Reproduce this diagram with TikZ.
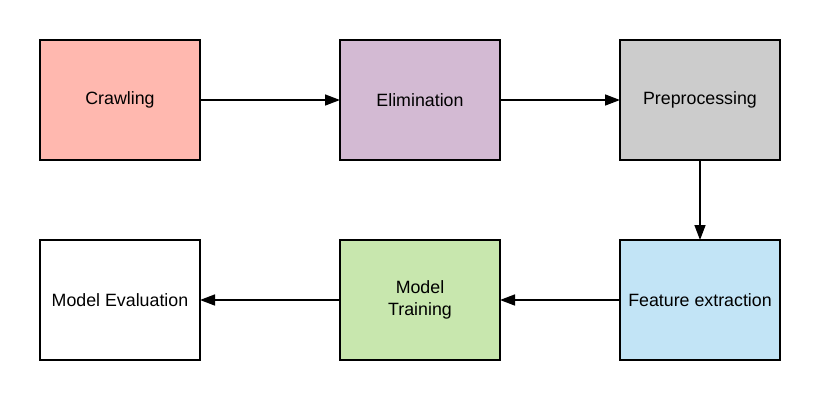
\documentclass[tikz,border=0pt]{standalone}
\usepackage{fontspec}
\setmainfont{Liberation Sans}
\usetikzlibrary{positioning,arrows.meta}

\definecolor{crawlfill}{HTML}{FFB8AF}
\definecolor{elimfill}{HTML}{D3BAD3}
\definecolor{prepfill}{HTML}{CCCCCC}
\definecolor{featfill}{HTML}{C2E4F6}
\definecolor{trainfill}{HTML}{C8E7AE}

\begin{document}
\begin{tikzpicture}[x=1pt, y=1pt, line width=1.5pt,
  stage/.style={draw, minimum width=160pt, minimum height=120pt,
    inner sep=0pt, outer sep=0pt, align=center,
    font=\fontsize{17.8}{22}\selectfont},
  flow/.style={-{Triangle[length=15pt, width=11pt]}}]
  \useasboundingbox (0,0) rectangle (820,-400);

  \node[stage, fill=crawlfill] (crawl) at (120,-100) {Crawling};
  \node[stage, fill=elimfill, right=140pt of crawl] (elim) {Elimination};
  \node[stage, fill=prepfill, right=120pt of elim] (prep) {Preprocessing};
  \node[stage, fill=featfill, below=80pt of prep] (feat) {Feature extraction};
  \node[stage, fill=trainfill, left=120pt of feat] (train) {Model\\Training};
  \node[stage, fill=white, left=140pt of train] (eval) {Model Evaluation};

  \draw[flow] (crawl) -- (elim);
  \draw[flow] (elim) -- (prep);
  \draw[flow] (prep) -- (feat);
  \draw[flow] (feat) -- (train);
  \draw[flow] (train) -- (eval);
\end{tikzpicture}
\end{document}
